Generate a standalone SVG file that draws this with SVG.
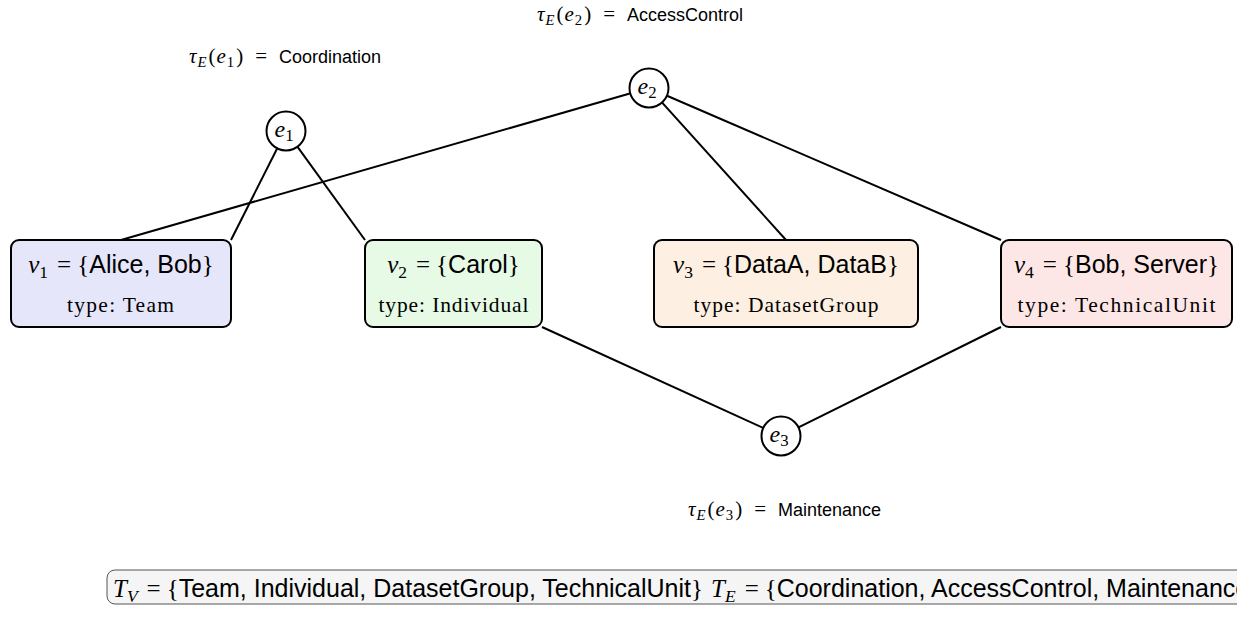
<svg xmlns="http://www.w3.org/2000/svg" width="1237" height="617" viewBox="0 0 1237 617">
<style>
.node rect{stroke:#000;stroke-width:2}
.circ{fill:#fff;stroke:#000;stroke-width:2}
.edges line{stroke:#000;stroke-width:2}
.m{font-family:"Liberation Serif",serif;font-style:italic}
.r{font-family:"Liberation Serif",serif;font-style:normal}
.s{font-family:"Liberation Sans",sans-serif;font-style:normal}
.main{font-size:25px}
.type{font-family:"Liberation Serif",serif;font-size:21.5px}
.lab{font-size:21px}
.lab .s{font-size:18px}
.sub{font-size:0.7em}
</style>
<rect width="1237" height="617" fill="#fff"/>
<g class="edges">
<line x1="277.4" y1="148" x2="231" y2="240"/>
<line x1="297.2" y1="146.4" x2="365" y2="240"/>
<line x1="630.7" y1="93.3" x2="121" y2="240"/>
<line x1="661.7" y1="102.1" x2="786" y2="240"/>
<line x1="666.4" y1="95.5" x2="1001" y2="240"/>
<line x1="763.7" y1="428.1" x2="542" y2="327"/>
<line x1="798" y1="427.6" x2="1001" y2="327"/>
</g>
<g id="v1" class="node">
<rect x="11" y="240" width="220" height="87" rx="8" fill="#e6e6fa"/>
<text x="121" y="273" text-anchor="middle" class="main"><tspan class="m">v</tspan><tspan class="r sub" dy="5">1</tspan><tspan class="r" dx="9" dy="-5">=</tspan><tspan class="r" dx="6">{</tspan><tspan class="s">Alice, Bob</tspan><tspan class="r">}</tspan></text>
<text x="120.5" y="312" text-anchor="middle" class="type" textLength="107">type: Team</text>
</g>
<g id="v2" class="node">
<rect x="365" y="240" width="177" height="87" rx="8" fill="#e6fae6"/>
<text x="453.5" y="273" text-anchor="middle" class="main"><tspan class="m">v</tspan><tspan class="r sub" dy="5">2</tspan><tspan class="r" dx="9" dy="-5">=</tspan><tspan class="r" dx="6">{</tspan><tspan class="s">Carol</tspan><tspan class="r">}</tspan></text>
<text x="453.5" y="312" text-anchor="middle" class="type" textLength="150">type: Individual</text>
</g>
<g id="v3" class="node">
<rect x="654" y="240" width="264" height="87" rx="8" fill="#fdf0e2"/>
<text x="786" y="273" text-anchor="middle" class="main"><tspan class="m">v</tspan><tspan class="r sub" dy="5">3</tspan><tspan class="r" dx="9" dy="-5">=</tspan><tspan class="r" dx="6">{</tspan><tspan class="s">DataA, DataB</tspan><tspan class="r">}</tspan></text>
<text x="786" y="312" text-anchor="middle" class="type" textLength="185">type: DatasetGroup</text>
</g>
<g id="v4" class="node">
<rect x="1001" y="240" width="231" height="87" rx="8" fill="#fde6e6"/>
<text x="1116.5" y="273" text-anchor="middle" class="main"><tspan class="m">v</tspan><tspan class="r sub" dy="5">4</tspan><tspan class="r" dx="9" dy="-5">=</tspan><tspan class="r" dx="6">{</tspan><tspan class="s">Bob, Server</tspan><tspan class="r">}</tspan></text>
<text x="1116.5" y="312" text-anchor="middle" class="type" textLength="198">type: TechnicalUnit</text>
</g>
<g id="e1">
<circle class="circ" cx="286" cy="131" r="19.5"/>
<text x="284" y="137" text-anchor="middle" font-size="24"><tspan class="m">e</tspan><tspan class="r sub" dy="4">1</tspan></text>
</g>
<g id="e2">
<circle class="circ" cx="649" cy="88" r="19.5"/>
<text x="647" y="94" text-anchor="middle" font-size="24"><tspan class="m">e</tspan><tspan class="r sub" dy="4">2</tspan></text>
</g>
<g id="e3">
<circle class="circ" cx="781" cy="436" r="19.5"/>
<text x="779" y="442" text-anchor="middle" font-size="24"><tspan class="m">e</tspan><tspan class="r sub" dy="4">3</tspan></text>
</g>
<g id="labels" class="lab">
<text x="189" y="63"><tspan class="m">τ</tspan><tspan class="m sub" dx="1" dy="4">E</tspan><tspan class="r" dx="2" dy="-4">(</tspan><tspan class="m" dx="1">e</tspan><tspan class="r sub" dx="1" dy="4">1</tspan><tspan class="r" dx="2" dy="-4">)</tspan><tspan class="r" dx="12">=</tspan><tspan class="s" dx="12">Coordination</tspan></text>
<text x="537" y="21"><tspan class="m">τ</tspan><tspan class="m sub" dx="1" dy="4">E</tspan><tspan class="r" dx="2" dy="-4">(</tspan><tspan class="m" dx="1">e</tspan><tspan class="r sub" dx="1" dy="4">2</tspan><tspan class="r" dx="2" dy="-4">)</tspan><tspan class="r" dx="12">=</tspan><tspan class="s" dx="12">AccessControl</tspan></text>
<text x="688" y="516"><tspan class="m">τ</tspan><tspan class="m sub" dx="1" dy="4">E</tspan><tspan class="r" dx="2" dy="-4">(</tspan><tspan class="m" dx="1">e</tspan><tspan class="r sub" dx="1" dy="4">3</tspan><tspan class="r" dx="2" dy="-4">)</tspan><tspan class="r" dx="12">=</tspan><tspan class="s" dx="12">Maintenance</tspan></text>
</g>
<g id="legend">
<rect x="107" y="570" width="1200" height="34" rx="8" fill="#f5f5f5" stroke="#555" stroke-width="1"/>
<text x="113" y="597" font-size="25"><tspan class="m">T</tspan><tspan class="m sub" dy="5">V</tspan><tspan class="r" dx="9" dy="-5">=</tspan><tspan class="r" dx="6">{</tspan><tspan class="s">Team, Individual, DatasetGroup, TechnicalUnit</tspan><tspan class="r">}</tspan><tspan class="m" dx="8">T</tspan><tspan class="m sub" dy="5">E</tspan><tspan class="r" dx="9" dy="-5">=</tspan><tspan class="r" dx="6">{</tspan><tspan class="s">Coordination, AccessControl, Maintenance</tspan><tspan class="r">}</tspan></text>
</g>
</svg>
